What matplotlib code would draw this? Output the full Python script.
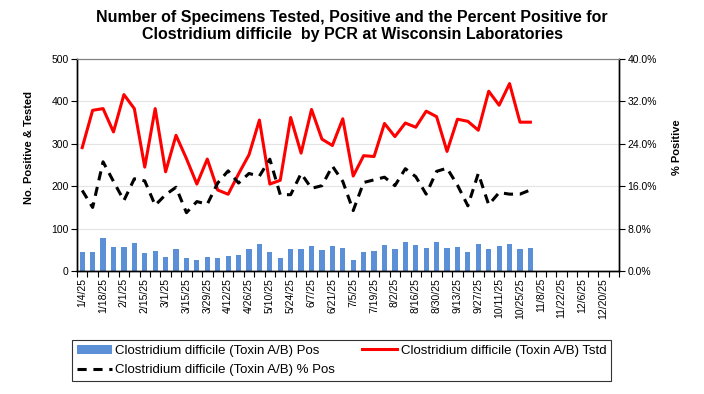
import numpy as np
import matplotlib
matplotlib.use("Agg")
import matplotlib.pyplot as plt
from matplotlib.ticker import FixedLocator

plt.rcParams['font.family'] = ['Liberation Sans', 'DejaVu Sans']

# weekly data, week ending 1/4/25 onward (52 weeks on the axis, 44 reported)
tick_labels = ['1/4/25', '1/18/25', '2/1/25', '2/15/25', '3/1/25', '3/15/25',
               '3/29/25', '4/12/25', '4/26/25', '5/10/25', '5/24/25', '6/7/25',
               '6/21/25', '7/5/25', '7/19/25', '8/2/25', '8/16/25', '8/30/25',
               '9/13/25', '9/27/25', '10/11/25', '10/25/25', '11/8/25',
               '11/22/25', '12/6/25', '12/20/25']
n_weeks = 52

pos = [45, 45, 78, 57, 57, 66, 43, 48, 34, 52, 31, 27, 34, 31, 36,
       38, 52, 64, 45, 31, 52, 52, 59, 50, 59, 55, 27, 45, 48, 61,
       52, 69, 61, 55, 69, 55, 57, 45, 64, 52, 59, 64, 52, 55]
tested = [291, 379, 383, 328, 416, 383, 245, 383, 234, 320, 265, 205, 264, 191, 181,
          229, 274, 356, 205, 214, 362, 278, 381, 311, 296, 359, 224, 272, 270, 348,
          317, 349, 339, 377, 364, 282, 358, 353, 332, 424, 391, 442, 351, 351]
pct_pos = [15.2, 12.0, 20.6, 16.9, 13.3, 17.4, 17.0, 12.4, 14.4, 15.8, 11.0, 13.1, 12.6, 16.6, 18.9,
           16.6, 18.4, 17.9, 21.1, 14.4, 14.4, 18.4, 15.6, 16.1, 19.8, 16.9, 11.4, 16.7, 17.2, 17.7,
           16.1, 19.3, 17.8, 14.5, 18.8, 19.4, 16.2, 12.3, 18.4, 12.5, 14.8, 14.5, 14.5, 15.3]

x = np.arange(len(pos))

fig = plt.figure(figsize=(7.04, 3.94), dpi=100)
ax = fig.add_axes([77 / 704, 1 - 271 / 394, 542 / 704, 212 / 394])
ax2 = ax.twinx()

bars = ax.bar(x, pos, width=0.5, color='#5B8FD6', zorder=2,
              label='Clostridium difficile (Toxin A/B) Pos')
line_t, = ax.plot(x, tested, color='#FF0000', lw=2.2, zorder=3,
                  label='Clostridium difficile (Toxin A/B) Tstd')
line_p, = ax2.plot(x, pct_pos, color='black', lw=2.2, ls=(0, (3, 2.2)),
                   label='Clostridium difficile (Toxin A/B) % Pos')

ax.set_xlim(-0.5, n_weeks - 0.5)
ax.set_ylim(0, 500)
ax2.set_ylim(0, 40)
ax.set_yticks([0, 100, 200, 300, 400, 500])
ax2.set_yticks([0, 8, 16, 24, 32, 40])
ax2.set_yticklabels(['%.1f%%' % v for v in [0, 8, 16, 24, 32, 40]])

ax.yaxis.grid(True, color='#E4E4E4', lw=0.8, zorder=0)
ax.set_axisbelow(True)

ax.set_xticks(np.arange(0, n_weeks, 2))
ax.set_xticklabels(tick_labels, rotation=90, fontsize=7.5)
ax.xaxis.set_minor_locator(FixedLocator(np.arange(-0.5, n_weeks, 1)))
ax.tick_params(axis='x', which='major', length=0, pad=5)
ax.tick_params(axis='x', which='minor', length=4, width=0.8)
ax.tick_params(axis='y', labelsize=7.5, length=4, width=0.8, pad=2)
ax2.tick_params(axis='y', labelsize=7.5, length=4, width=0.8, pad=2)

for a in (ax, ax2):
    a.spines['top'].set_color('#808080')
    a.spines['left'].set_linewidth(1)
    a.spines['right'].set_linewidth(1)
    a.spines['bottom'].set_linewidth(1)

ax.set_ylabel('No. Positive & Tested', fontsize=8, fontweight='bold')
ax.yaxis.set_label_coords(-43 / 542, (271 - 147) / 212)
ax2.set_ylabel('% Positive', fontsize=8, fontweight='bold')
ax2.yaxis.set_label_coords(1 + 53 / 542, (271 - 147) / 212)

fig.text(0.5, 0.975, 'Number of Specimens Tested, Positive and the Percent Positive for\n'
         'Clostridium difficile  by PCR at Wisconsin Laboratories',
         ha='center', va='top', fontsize=11.5, fontweight='bold', linespacing=1.15)

leg = fig.legend(handles=[bars, line_p, line_t], ncol=2,
                 loc='upper left', bbox_to_anchor=(72 / 704, 1 - 340 / 394),
                 borderaxespad=0, fontsize=9.5, frameon=True, fancybox=False,
                 edgecolor='black', handlelength=2.65, handletextpad=0.25,
                 borderpad=0.35, labelspacing=0.55, columnspacing=2.1)
leg.get_frame().set_linewidth(0.8)

fig.savefig('out.png', dpi=100)
